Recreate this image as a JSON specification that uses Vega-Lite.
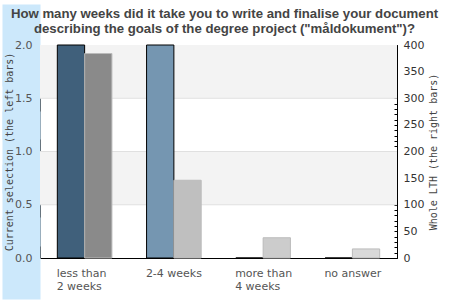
{
  "$schema": "https://vega.github.io/schema/vega-lite/v6.json",
  "width": 357,
  "height": 213,
  "autosize": {"type": "none"},
  "padding": {"left": 40, "top": 45, "right": 53, "bottom": 42},
  "background": "white",
  "config": {
    "view": {"stroke": "#000000", "strokeWidth": 1},
    "font": "DejaVu Sans"
  },
  "title": {
    "text": ["How many weeks did it take you to write and finalise your document", "describing the goals of the degree project (\"måldokument\")?"],
    "font": "Liberation Sans",
    "fontSize": 13.2,
    "fontWeight": "bold",
    "color": "#444444",
    "anchor": "middle",
    "frame": "group",
    "dx": 6,
    "offset": -32,
    "lineHeight": 15,
    "zindex": 1
  },
  "datasets": {
    "answers": [
      {"answer": "less than 2 weeks", "current": 2, "whole": 384},
      {"answer": "2-4 weeks", "current": 2, "whole": 146},
      {"answer": "more than 4 weeks", "current": 0, "whole": 38},
      {"answer": "no answer", "current": 0, "whole": 17}
    ],
    "stripes": [
      {"lo": 0.5, "hi": 1.0},
      {"lo": 1.5, "hi": 2.0}
    ],
    "grid": [
      {"v": 0.5},
      {"v": 1.0},
      {"v": 1.5}
    ]
  },
  "layer": [
    {
      "layer": [
        {
          "data": {"name": "stripes"},
          "mark": {"type": "rect", "color": "#f3f3f3"},
          "encoding": {
            "y": {
              "field": "lo",
              "type": "quantitative",
              "scale": {"domain": [0, 2], "nice": false},
              "axis": {
                "orient": "left",
                "title": "Current selection (the left bars)",
                "titleFont": "DejaVu Sans Mono",
                "titleFontSize": 10,
                "titleFontWeight": "normal",
                "titleColor": "#444444",
                "titlePadding": -53,
                "values": [0, 0.5, 1, 1.5, 2],
                "format": ".1f",
                "grid": false,
                "domain": false,
                "ticks": true,
                "tickSize": 38,
                "tickWidth": 82,
                "tickColor": "#cce8fb",
                "tickCap": "butt",
                "labelPadding": -30,
                "labelFont": "DejaVu Sans",
                "labelFontSize": 11,
                "labelColor": "#555555"
              }
            },
            "y2": {"field": "hi"}
          }
        },
        {
          "data": {"name": "grid"},
          "mark": {"type": "rule", "color": "#e0e0e0", "strokeWidth": 1},
          "encoding": {
            "y": {"field": "v", "type": "quantitative"}
          }
        },
        {
          "data": {"name": "answers"},
          "mark": {"type": "bar", "stroke": "#000000", "strokeWidth": 1},
          "encoding": {
            "x": {
              "field": "answer",
              "type": "nominal",
              "sort": null,
              "scale": {"paddingInner": 0.388, "paddingOuter": 0.194},
              "axis": {
                "title": null,
                "ticks": false,
                "domain": false,
                "labelAngle": 0,
                "labelAlign": "left",
                "labelBaseline": "top",
                "labelOffset": -28,
                "labelPadding": 9.5,
                "labelFont": "DejaVu Sans",
                "labelFontSize": 11,
                "labelColor": "#555555",
                "labelLineHeight": 12.5,
                "labelExpr": "datum.label == 'less than 2 weeks' ? ['less than', '2 weeks'] : datum.label == 'more than 4 weeks' ? ['more than', '4 weeks'] : datum.label"
              }
            },
            "xOffset": {"datum": "a", "scale": {"domain": ["a", "b"], "paddingInner": 0, "paddingOuter": 0}},
            "y": {"field": "current", "type": "quantitative"},
            "color": {
              "field": "answer",
              "type": "nominal",
              "sort": null,
              "legend": null,
              "scale": {
                "domain": ["less than 2 weeks", "2-4 weeks", "more than 4 weeks", "no answer"],
                "range": ["#40607b", "#7596b1", "#8fb0ca", "#a9c6dc"]
              }
            }
          }
        }
      ]
    },
    {
      "data": {"name": "answers"},
      "mark": {"type": "bar", "stroke": "#bbbbbb", "strokeWidth": 1},
      "encoding": {
        "x": {
          "field": "answer",
          "type": "nominal",
          "sort": null
        },
        "xOffset": {"datum": "b"},
        "y": {
          "field": "whole",
          "type": "quantitative",
          "scale": {"domain": [0, 400], "nice": false},
          "axis": {
            "orient": "right",
            "title": "Whole LTH (the right bars)",
            "titleFont": "DejaVu Sans Mono",
            "titleFontSize": 10,
            "titleFontWeight": "normal",
            "titleColor": "#444444",
            "titleAngle": 270,
            "titleBaseline": "top",
            "titlePadding": 5,
            "values": [0, 10, 20, 30, 40, 50, 60, 70, 80, 90, 100, 110, 120, 130, 140, 150, 160, 170, 180, 190, 200, 210, 220, 230, 240, 250, 260, 270, 280, 290, 300, 310, 320, 330, 340, 350, 360, 370, 380, 390, 400],
            "labelExpr": "datum.value % 50 == 0 ? datum.label : ''",
            "labelOverlap": false,
            "grid": false,
            "domain": true,
            "domainColor": "#000000",
            "ticks": true,
            "tickSize": -3,
            "tickColor": "#000000",
            "labelPadding": 9,
            "labelFont": "DejaVu Sans",
            "labelFontSize": 11,
            "labelColor": "#333333"
          }
        },
        "color": {
          "field": "answer",
          "type": "nominal",
          "sort": null,
          "legend": null,
          "scale": {
            "domain": ["less than 2 weeks", "2-4 weeks", "more than 4 weeks", "no answer"],
            "range": ["#8a8a8a", "#bfbfbf", "#cccccc", "#d9d9d9"]
          }
        }
      }
    }
  ],
  "resolve": {"scale": {"y": "independent", "color": "independent"}}
}
